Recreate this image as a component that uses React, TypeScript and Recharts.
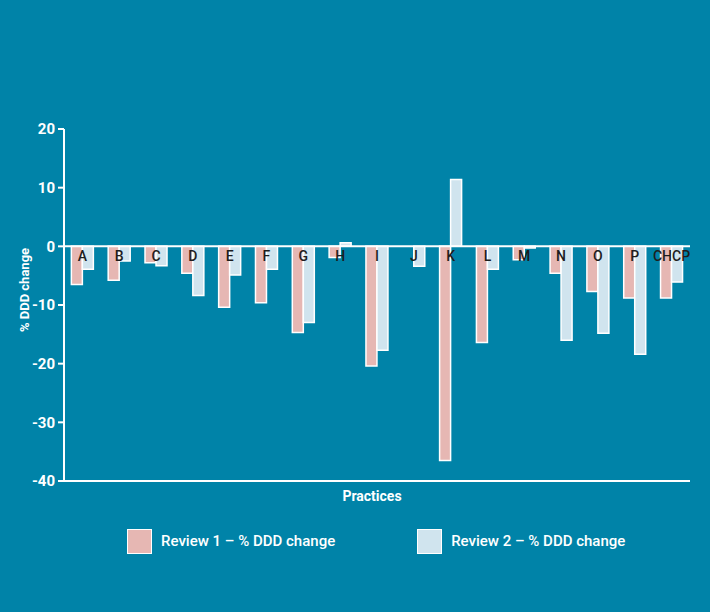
import {
  BarChart,
  Bar,
  XAxis,
  YAxis,
  Legend,
  ReferenceLine,
  LabelList,
} from "recharts";

const practices = ["A", "B", "C", "D", "E", "F", "G", "H", "I", "J", "K", "L", "M", "N", "O", "P", "CHCP"];
const review1 = [-6.5, -5.8, -2.8, -4.6, -10.4, -9.6, -14.7, -1.9, -20.4, 0, -36.5, -16.4, -2.3, -4.6, -7.7, -8.8, -8.8];
const review2 = [-3.9, -2.5, -3.3, -8.4, -4.9, -3.9, -13, 0.6, -17.7, -3.4, 11.4, -3.9, -0.3, -16, -14.8, -18.4, -6.1];
const yTicks = [20, 10, 0, -10, -20, -30, -40];

const BG = "#0083a8";
const PINK = "#e6b7b3";
const BLUE = "#d0e4ee";
const FONT = "Roboto, 'DejaVu Sans', sans-serif";

const chartData = practices.map((name, i) => ({
  name,
  r1: review1[i],
  r2: review2[i],
}));

// category name sits just under the zero line, centred on the pair of bars
// (hung off the review 2 bar, which is never zero, so every label gets drawn)
function CategoryLabel(props: any) {
  const { x, y, width, height, value, index } = props;
  const top = Math.min(y, y + height);
  const bottom = Math.max(y, y + height);
  const zeroY = review2[index] >= 0 ? bottom : top;
  return (
    <text
      x={x}
      y={zeroY + 15}
      textAnchor="middle"
      fill="#1d1d1d"
      fontSize={14}
      fontWeight={500}
      fontFamily={FONT}
    >
      {value}
    </text>
  );
}

function YLabel(props: any) {
  const { viewBox } = props;
  const cx = viewBox.x + 4;
  const cy = viewBox.y + viewBox.height / 2 - 15;
  return (
    <text
      x={cx}
      y={cy}
      transform={`rotate(-90, ${cx}, ${cy})`}
      textAnchor="middle"
      dominantBaseline="central"
      fill="#fff"
      fontSize={13}
      fontWeight={700}
      fontFamily={FONT}
    >
      % DDD change
    </text>
  );
}

function LegendBox({ payload }: any) {
  return (
    <div style={{ display: "flex", height: 30, alignItems: "center", fontFamily: FONT }}>
      {payload.map((p: any, i: number) => (
        <div
          key={p.value}
          style={{ display: "flex", alignItems: "center", marginLeft: i === 0 ? 127 : 82 }}
        >
          <span
            style={{
              width: 23,
              height: 23,
              background: p.color,
              border: "1.5px solid #fff",
              display: "inline-block",
            }}
          />
          <span style={{ color: "#fff", fontSize: 15, fontWeight: 500, marginLeft: 9 }}>
            {p.value}
          </span>
        </div>
      ))}
    </div>
  );
}

export default function App() {
  return (
    <div style={{ width: 710, height: 612, background: BG }}>
      <style>{`body{margin:0}`}</style>
      <BarChart
        width={710}
        height={612}
        data={chartData}
        margin={{ top: 129, right: 20, left: 20, bottom: 71 }}
        barCategoryGap="20%"
        barGap={0}
      >
        <XAxis
          dataKey="name"
          tick={false}
          tickLine={false}
          height={30}
          axisLine={{ stroke: "#fff", strokeWidth: 2 }}
          label={{
            value: "Practices",
            position: "center",
            fill: "#fff",
            fontSize: 14,
            fontWeight: 700,
            fontFamily: FONT,
            dx: -5,
          }}
        />
        <YAxis
          width={44}
          domain={[-40, 20]}
          ticks={yTicks}
          interval={0}
          axisLine={{ stroke: "#fff", strokeWidth: 2 }}
          tickLine={{ stroke: "#fff", strokeWidth: 2 }}
          tickSize={6}
          tickMargin={3}
          tick={{ fill: "#fff", fontSize: 15, fontWeight: 700, fontFamily: FONT }}
          label={<YLabel />}
        />
        <ReferenceLine y={0} stroke="#fff" strokeWidth={2} />
        <Legend
          verticalAlign="bottom"
          content={<LegendBox />}
          wrapperStyle={{ left: 0, width: 710, bottom: 56 }}
        />
        <Bar
          dataKey="r1"
          name="Review 1 – % DDD change"
          fill={PINK}
          stroke="#fff"
          strokeWidth={1.5}
          isAnimationActive={false}
        />
        <Bar
          dataKey="r2"
          name="Review 2 – % DDD change"
          fill={BLUE}
          stroke="#fff"
          strokeWidth={1.5}
          isAnimationActive={false}
        >
          <LabelList dataKey="name" content={<CategoryLabel />} />
        </Bar>
      </BarChart>
    </div>
  );
}
